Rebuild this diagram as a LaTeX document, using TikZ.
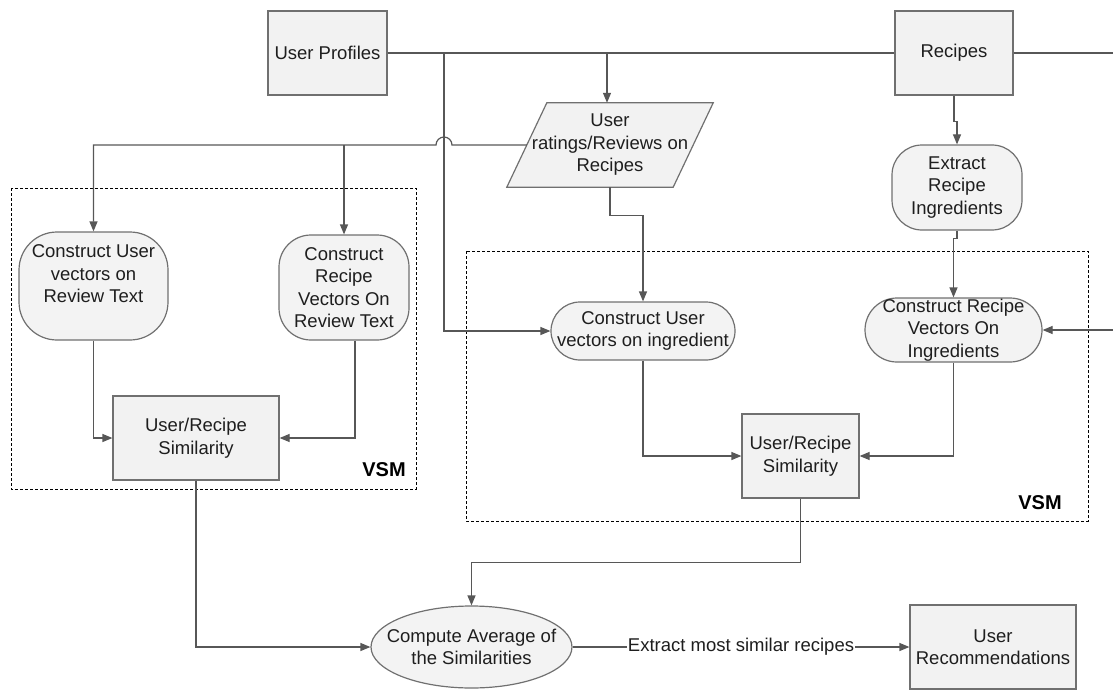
\documentclass[tikz,border=0pt]{standalone}
\usepackage{fontspec}
\setmainfont{Liberation Sans}
\usetikzlibrary{arrows.meta,shapes.geometric,backgrounds}
\definecolor{edge}{HTML}{707070}
\definecolor{wire}{HTML}{575757}
\definecolor{boxFill}{HTML}{F2F2F2}
\definecolor{capFill}{HTML}{F3F3F3}
\definecolor{ink}{HTML}{1E1E1E}
\begin{document}
\begin{tikzpicture}[x=1pt,y=-1pt,
  font=\fontsize{18.5}{22.5}\selectfont,
  every node/.style={text=ink},
  block/.style={draw=edge, line width=1.2pt, fill=boxFill, align=center, inner sep=0pt},
  term/.style={block, fill=capFill, rounded corners=#1},
  plain/.style={align=center, inner sep=0pt},
  link/.style={draw=wire, line width=1.2pt},
  arr/.style={link, -{Triangle[length=10pt,width=8pt]}},
  vsm/.style={draw=black, line width=1pt, dash pattern=on 3pt off 2pt},
  vsmlabel/.style={font=\fontsize{20}{24}\selectfont\bfseries, text=black, inner sep=0pt}]
\useasboundingbox (0,0) rectangle (1113,690);

% vector space model groups
\draw[vsm] (11,188) rectangle (416,489);
\draw[vsm] (466,251) rectangle (1088,521);
\node[vsmlabel] (vsmA) at (384,470) {VSM};
\node[vsmlabel] (vsmB) at (1040,503) {VSM};

% sources
\node[block, minimum width=119, minimum height=84] (profiles) at (327.5,53) {User Profiles};
\node[block, minimum width=118, minimum height=84] (recipes) at (954,53) {Recipes};
\node[plain, minimum width=206, minimum height=84] (reviews) at (610,145)
  {User\\ratings/Reviews on\\Recipes};
\begin{scope}[on background layer]
  \path[block] ([xshift=40pt]reviews.north west) -- (reviews.north east)
    -- ([xshift=-40pt]reviews.south east) -- (reviews.south west) -- cycle;
\end{scope}

% review-text branch
\node[term=38pt, minimum width=149, minimum height=108] (rvU) at (93.5,286) {};
\node[plain] (rvUtext) at (93.5,274) {Construct User\\vectors on\\Review Text};
\node[term=32pt, minimum width=130, minimum height=105] (rvR) at (344,287.5)
  {Construct\\Recipe\\Vectors On\\Review Text};
\node[block, minimum width=166, minimum height=84] (sim1) at (196,438) {User/Recipe\\Similarity};

% ingredient branch
\node[term=30pt, minimum width=130, minimum height=85] (extract) at (957,187.5)
  {Extract\\Recipe\\Ingredients};
\node[term=29pt, minimum width=184, minimum height=58] (uving) at (643,331)
  {Construct User\\vectors on ingredient};
\node[term=32pt, minimum width=177, minimum height=64] (ingrv) at (953.5,330)
  {Construct Recipe\\Vectors On\\Ingredients};
\node[block, minimum width=117, minimum height=84] (sim2) at (800.5,456) {User/Recipe\\Similarity};

% combination
\node[term=0pt, ellipse, minimum width=201, minimum height=82] (avg) at (471.5,647) {};
\node[plain] (avgtext) at (471.5,647) {Compute Average of\\the Similarities};
\node[block, minimum width=166, minimum height=84] (rec) at (993,647) {User\\Recommendations};

% junctions and off-page ends
\coordinate (j1) at (607,53);
\coordinate (j2) at (444,53);
\coordinate (offA) at (1113,53);
\coordinate (offB) at (1113,330);

% connectors
\draw[link] (profiles.east) -- (recipes.west);
\draw[link] (recipes.east) -- (offA);
\draw[arr] (offB) -- (ingrv.east);
\draw[arr] (j1) -- (j1 |- reviews.north);
\draw[arr] (j2) |- (uving.west);
\draw[arr] ([xshift=20pt]reviews.west) -- (452,145)
  arc[start angle=0, end angle=-180, radius=8] -| (rvU.north);
\draw[arr] (rvR.north |- reviews.west) -- (rvR.north);
\draw[arr] (rvU.south) |- (sim1.west);
\draw[arr] ([xshift=11pt]rvR.south) |- (sim1.east);
\draw[arr] (reviews.south) -- ++(0,28) -| (uving.north);
\draw[arr] (recipes.south) -- ++(0,26) -| (extract.north);
\draw[arr] (extract.south) -- ++(0,8) -| (ingrv.north);
\draw[arr] (uving.south) |- (sim2.west);
\draw[arr] (ingrv.south) |- (sim2.east);
\draw[arr] (sim1.south) |- (avg.west);
\draw[arr] (sim2.south) -- ++(0,64) -| (avg.north);
\draw[arr] (avg.east) -- node[fill=white, inner sep=1pt] (extractlbl) {Extract most similar recipes} (rec.west);
\end{tikzpicture}
\end{document}
